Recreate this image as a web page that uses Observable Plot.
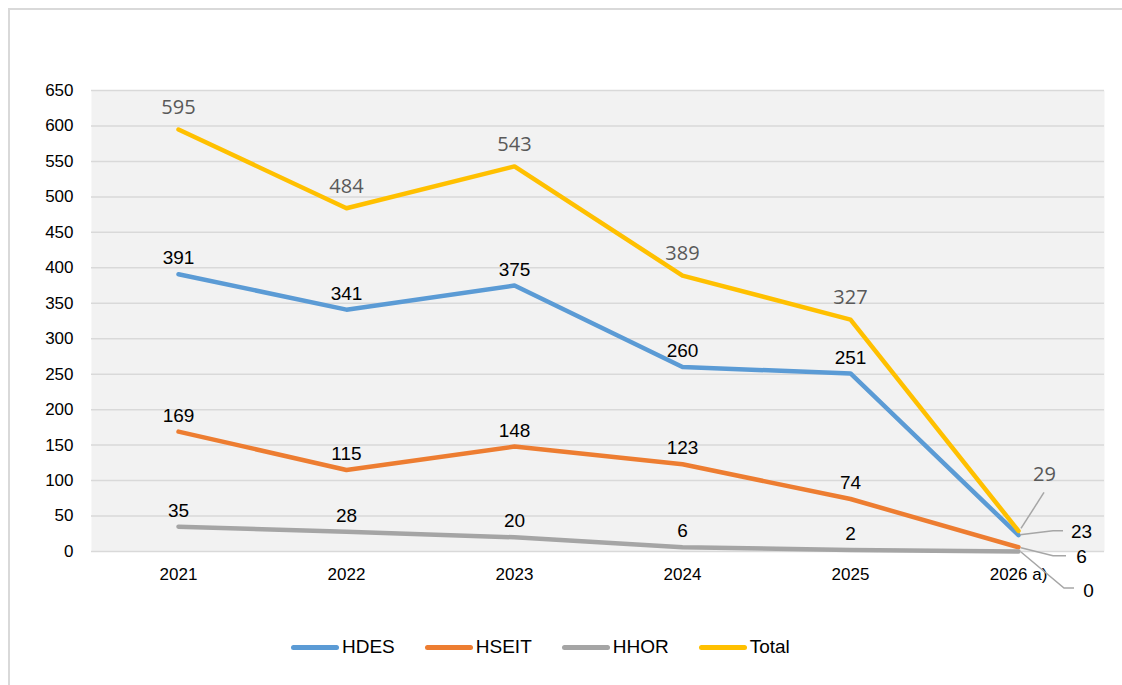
<!DOCTYPE html>
<html>
<head>
<meta charset="utf-8">
<script src="https://cdn.jsdelivr.net/npm/d3@7"></script>
<script src="https://cdn.jsdelivr.net/npm/@observablehq/plot@0.6"></script>
<style>
  html, body { margin: 0; padding: 0; background: #fff; overflow: hidden; }
  #wrap { position: relative; width: 1122px; height: 685px; font-family: "Liberation Sans", Arial, sans-serif; }
  #border { position: absolute; left: 8px; top: 8px; width: 1300px; height: 900px; border: 2px solid #d9d9d9; box-sizing: border-box; }
  #chart { position: absolute; left: 0; top: 0; }
  #legend { position: absolute; left: 291px; top: 636px; display: flex; align-items: center; gap: 30px; font-size: 19px; color: #000; }
  .item { display: flex; align-items: center; gap: 3px; }
  .sw { width: 48px; height: 5px; border-radius: 3px; }
</style>
</head>
<body>
<div id="wrap">
  <div id="border"></div>
  <div id="chart"></div>
  <div id="legend"></div>
</div>
<script>
const years = ["2021", "2022", "2023", "2024", "2025", "2026 a)"];
const hdes  = [391, 341, 375, 260, 251, 23];
const hseit = [169, 115, 148, 123, 74, 6];
const hhor  = [35, 28, 20, 6, 2, 0];
const total = [595, 484, 543, 389, 327, 29];
const seriesNames = ["HDES", "HSEIT", "HHOR", "Total"];
const seriesColors = ["#5b9bd5", "#ed7d31", "#a5a5a5", "#ffc000"];
const yTicks = d3.range(0, 651, 50);

const valuesBySeries = [hdes, hseit, hhor, total];
const rows = [];
seriesNames.forEach((s, si) => {
  years.forEach((yr, i) => rows.push({ series: s, year: yr, value: valuesBySeries[si][i] }));
});

const lastYear = years[years.length - 1];
const mainLabels = rows.filter(d => d.year !== lastYear);
const endLabels = rows.filter(d => d.year === lastYear);

// callout offsets (pixels, relative to the data point) for the crowded final year
const callout = {
  "Total": { dx: 26, dy: -56, path: [[3, -2], [26, -38]] },
  "HDES":  { dx: 63, dy: -3,  path: [[2, 0], [35, -4], [45, -4]] },
  "HSEIT": { dx: 63, dy: 10,  path: [[3, 1], [35, 9], [48, 9]] },
  "HHOR":  { dx: 70, dy: 39,  path: [[3, 1], [46, 37], [56, 37]] }
};

const labelFont = '"Liberation Sans", Arial, sans-serif';
const totalFont = '"Open Sans", sans-serif';

const marks = [
  Plot.frame({ fill: "#f2f2f2", stroke: "none" }),
  Plot.gridY(yTicks, { stroke: "#d9d9d9", strokeOpacity: 1, strokeWidth: 1.5 }),
  Plot.axisY({ ticks: yTicks, tickSize: 0, tickPadding: 18, fontSize: 17, fontFamily: labelFont, fill: "#000" }),
  Plot.axisX({ tickSize: 0, tickPadding: 16, fontSize: 17, fontFamily: labelFont, fill: "#000" }),
  Plot.line(rows, {
    x: "year", y: "value", z: "series", stroke: "series",
    strokeWidth: 4.5, strokeLinecap: "round", strokeLinejoin: "round"
  }),
  Plot.text(mainLabels.filter(d => d.series !== "Total"), {
    x: "year", y: "value", text: d => String(d.value), dy: -16,
    fontSize: 19, fontFamily: labelFont, fill: "#000"
  }),
  Plot.text(mainLabels.filter(d => d.series === "Total"), {
    x: "year", y: "value", text: d => String(d.value), dy: -22,
    fontSize: 20, fontFamily: totalFont, fill: "#595959"
  })
];

seriesNames.forEach(s => {
  const c = callout[s];
  marks.push(Plot.text(endLabels.filter(d => d.series === s), {
    x: "year", y: "value", text: d => String(d.value), dx: c.dx, dy: c.dy,
    fontSize: s === "Total" ? 20 : 19,
    fontFamily: s === "Total" ? totalFont : labelFont,
    fill: s === "Total" ? "#595959" : "#000"
  }));
});

const chart = Plot.plot({
  width: 1122,
  height: 600,
  marginLeft: 91,
  marginRight: 18,
  marginTop: 90,
  marginBottom: 49,
  style: { background: "transparent", overflow: "visible" },
  x: { type: "point", domain: years, padding: 0.5, label: null },
  y: { domain: [0, 650], label: null },
  color: { domain: seriesNames, range: seriesColors },
  marks
});

// leader lines for the final-year callouts, positioned through Plot's scales
const xs = chart.scale("x"), ys = chart.scale("y");
const lg = d3.select(chart).append("g").attr("fill", "none").attr("stroke", "#a6a6a6").attr("stroke-width", 1.5);
endLabels.forEach(d => {
  const px = xs.apply(d.year), py = ys.apply(d.value);
  const pts = callout[d.series].path.map(([ox, oy]) => [px + ox, py + oy]);
  lg.append("path").attr("d", d3.line()(pts));
});
document.getElementById("chart").appendChild(chart);

const legend = document.getElementById("legend");
seriesNames.forEach((s, i) => {
  const it = document.createElement("div");
  it.className = "item";
  const sw = document.createElement("div");
  sw.className = "sw";
  sw.style.background = seriesColors[i];
  const tx = document.createElement("span");
  tx.textContent = s;
  it.appendChild(sw);
  it.appendChild(tx);
  legend.appendChild(it);
});
</script>
</body>
</html>
